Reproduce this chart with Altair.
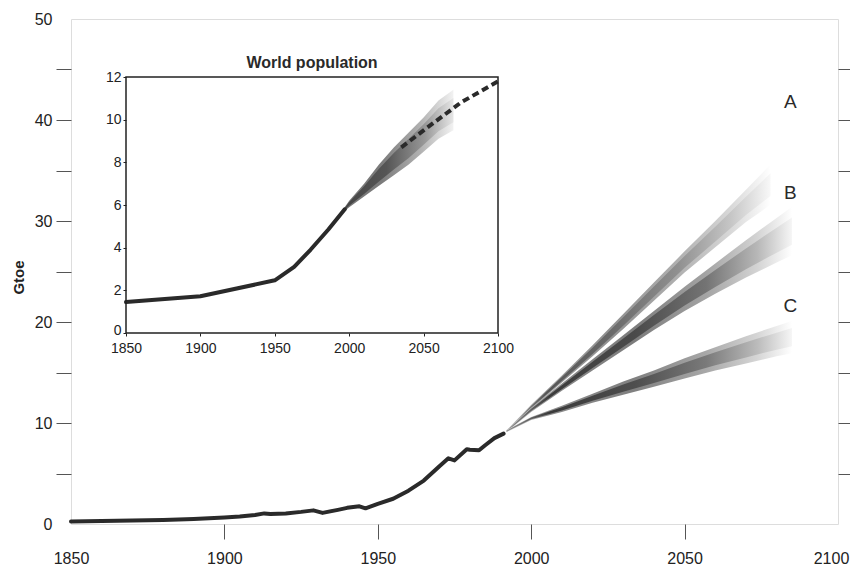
import altair as alt
import pandas as pd

FONT = "Liberation Sans"

# ---- main chart data (Gtoe) ----
hist_years = [1850, 1860, 1870, 1880, 1890, 1900, 1905, 1910, 1913, 1915, 1920, 1925,
              1929, 1932, 1937, 1940, 1944, 1946, 1950, 1955, 1960, 1965, 1970, 1973,
              1975, 1979, 1980, 1983, 1985, 1988, 1991]
hist_vals = [0.25, 0.3, 0.35, 0.4, 0.5, 0.65, 0.75, 0.9, 1.05, 1.0, 1.05, 1.2,
             1.35, 1.1, 1.4, 1.6, 1.75, 1.55, 2.0, 2.5, 3.3, 4.3, 5.7, 6.5,
             6.3, 7.4, 7.35, 7.3, 7.8, 8.5, 8.95]

fan_years_A = [1992, 2000, 2010, 2020, 2030, 2040, 2050, 2060, 2070, 2078]
A_lo = [9.1, 11.4, 14.0, 16.6, 19.3, 22.1, 24.9, 27.4, 29.9, 31.6]
A_hi = [9.3, 11.8, 14.7, 17.7, 20.8, 23.9, 27.0, 30.0, 33.1, 35.6]

fan_years_BC = [1992, 2000, 2010, 2020, 2030, 2040, 2050, 2060, 2070, 2080, 2085]
B_lo = [9.1, 11.1, 13.2, 15.2, 17.2, 19.2, 21.1, 22.8, 24.4, 25.9, 26.6]
B_hi = [9.3, 11.5, 13.9, 16.3, 18.7, 21.1, 23.5, 25.8, 28.1, 30.3, 31.4]
C_lo = [9.1, 10.3, 11.1, 12.0, 12.8, 13.6, 14.4, 15.2, 15.9, 16.6, 16.9]
C_hi = [9.3, 10.6, 11.7, 12.9, 14.1, 15.2, 16.4, 17.5, 18.6, 19.6, 20.1]

scen_labels = ["A", "B", "C"]
scen_label_year = [2084.5, 2084.5, 2084.5]
scen_label_val = [41.8, 32.8, 21.6]

# ---- inset data (billion people) ----
pop_years = [1850, 1900, 1950, 1963, 1974, 1986, 1997]
pop_vals = [1.45, 1.72, 2.47, 3.1, 3.9, 4.85, 5.8]
pop_band_years = [1995, 2000, 2010, 2020, 2030, 2040, 2050, 2060, 2070]
pop_band_lo = [5.6, 5.9, 6.4, 6.9, 7.4, 7.9, 8.5, 9.1, 9.5]
pop_band_hi = [5.7, 6.2, 7.0, 7.9, 8.7, 9.4, 10.1, 10.9, 11.4]
pop_dash_years = [2035, 2050, 2075, 2100]
pop_dash_vals = [8.7, 9.5, 10.8, 11.8]

# ---- scales / axes ----
hide_ends_x = {"condition": {"test": "datum.value == 1850 || datum.value == 2100", "value": 0}, "value": 1}
hide_ends_y = {"condition": {"test": "datum.value == 0 || datum.value == 50", "value": 0}, "value": 1}
shift_last = {"condition": {"test": "datum.value == 2100", "value": -7}, "value": 0}
shift_zero = {"condition": {"test": "datum.value == 0", "value": -3}, "value": 0}

x_scale = alt.Scale(domain=[1850, 2100], nice=False, zero=False)
y_scale = alt.Scale(domain=[0, 50], nice=False, zero=True)
x_axis = alt.Axis(values=[1850, 1900, 1950, 2000, 2050, 2100], format="d", title=None,
                  tickSize=15, tickColor="#555", labelFontSize=16, labelPadding=11,
                  domain=False, grid=False, labelFlush=False, labelOverlap=False,
                  labelColor="#222", labelFont=FONT, tickOpacity=hide_ends_x,
                  labelOffset=shift_last)
y_axis = alt.Axis(values=list(range(0, 51, 5)),
                  labelExpr="datum.value % 10 == 0 ? datum.label : ''",
                  title="Gtoe", titleFontWeight="bold", titleFontSize=15, titleFont=FONT,
                  titleColor="#222", titleX=-53, titleY=258, titleAngle=-90,
                  titleAlign="center", titleBaseline="middle",
                  tickSize=15, tickColor="#555", labelPadding=4, labelFontSize=16,
                  labelColor="#222", labelFont=FONT, domain=False, grid=False,
                  tickOpacity=hide_ends_y)

X = alt.X("year:Q", scale=x_scale, axis=x_axis)


def grad(stops):
    return alt.Gradient(gradient="linear", x1=0, x2=1, y1=0, y2=0,
                        stops=[alt.GradientStop(offset=o, color=c) for o, c in stops])


def fan(years, lo, hi, outer_stops, inner_stops):
    df = pd.DataFrame({"year": years, "lo": lo, "hi": hi})
    base = alt.Chart(df)
    outer = base.mark_area(color=grad(outer_stops)).encode(
        x=X, y=alt.Y("lo:Q", scale=y_scale, axis=y_axis), y2="hi:Q")
    inner = base.transform_calculate(
        lo2="datum.lo + (datum.hi - datum.lo) * 0.22",
        hi2="datum.hi - (datum.hi - datum.lo) * 0.22",
    ).mark_area(color=grad(inner_stops)).encode(
        x=X, y=alt.Y("lo2:Q", scale=y_scale, axis=y_axis), y2="hi2:Q")
    return outer + inner


fanA = fan(fan_years_A, A_lo, A_hi,
           [(0, "#e2e2e2"), (0.15, "#a0a0a0"), (0.4, "#909090"), (0.65, "#b0b0b0"), (0.85, "#d8d8d8"), (1, "#ffffff")],
           [(0, "#a0a0a0"), (0.15, "#555555"), (0.4, "#6a6a6a"), (0.65, "#909090"), (0.85, "#c6c6c6"), (1, "#f8f8f8")])
fanB = fan(fan_years_BC, B_lo, B_hi,
           [(0, "#dddddd"), (0.15, "#8c8c8c"), (0.45, "#7c7c7c"), (0.7, "#a4a4a4"), (0.88, "#d4d4d4"), (1, "#ffffff")],
           [(0, "#909090"), (0.15, "#3c3c3c"), (0.45, "#4a4a4a"), (0.7, "#747474"), (0.88, "#b8b8b8"), (1, "#f6f6f6")])
fanC = fan(fan_years_BC, C_lo, C_hi,
           [(0, "#dddddd"), (0.15, "#8c8c8c"), (0.45, "#808080"), (0.7, "#a8a8a8"), (0.88, "#d6d6d6"), (1, "#ffffff")],
           [(0, "#909090"), (0.15, "#3a3a3a"), (0.45, "#4e4e4e"), (0.7, "#7a7a7a"), (0.88, "#bcbcbc"), (1, "#f6f6f6")])

hist = alt.Chart(pd.DataFrame({"year": hist_years, "val": hist_vals})).mark_line(
    color="#2a2a2a", strokeWidth=4, strokeJoin="round", strokeCap="round"
).encode(x=X, y=alt.Y("val:Q", scale=y_scale, axis=y_axis))

labels = alt.Chart(pd.DataFrame({"year": scen_label_year, "val": scen_label_val, "lab": scen_labels})).mark_text(
    fontSize=19, font=FONT, color="#2a2a2a", baseline="middle", align="center"
).encode(x=X, y=alt.Y("val:Q", scale=y_scale, axis=y_axis), text="lab:N")

main = alt.layer(fanA, fanB, fanC, hist, labels)

# ---- right-hand tick axis ----
right = alt.Chart(pd.DataFrame({"v": list(range(5, 50, 5))})).mark_point(opacity=0).encode(
    y=alt.Y("v:Q", scale=alt.Scale(domain=[0, 50], nice=False),
            axis=alt.Axis(orient="right", values=list(range(5, 50, 5)), labels=False,
                          tickSize=17, tickColor="#555", domain=False, grid=False, title=None))
)

# ---- inset ----
xi_scale = alt.Scale(domain=[1850, 2100], range=[55, 427], nice=False, zero=False)
yi_scale = alt.Scale(domain=[0, 12], range=[314, 58], nice=False, zero=True)
xi_axis = alt.Axis(values=[1850, 1900, 1950, 2000, 2050, 2100], format="d", orient="bottom",
                   offset=-191, labelFontSize=14, labelFont=FONT, labelColor="#222",
                   tickSize=3, tickColor="#222", labelPadding=5, domain=False, grid=False,
                   labelFlush=False, labelOverlap=False, title=None)
yi_axis = alt.Axis(values=[0, 2, 4, 6, 8, 10, 12], orient="left", offset=-55,
                   labelFontSize=14, labelFont=FONT, labelColor="#222", tickSize=3,
                   tickColor="#222", labelPadding=2, domain=False, grid=False, title=None,
                   labelOffset=shift_zero)
XI = alt.X("year:Q", scale=xi_scale, axis=xi_axis)

band_df = pd.DataFrame({"year": pop_band_years, "lo": pop_band_lo, "hi": pop_band_hi})
ibase = alt.Chart(band_df)
iband_outer = ibase.mark_area(
    color=grad([(0, "#777777"), (0.35, "#7a7a7a"), (0.7, "#b0b0b0"), (1, "#f2f2f2")])
).encode(x=XI, y=alt.Y("lo:Q", scale=yi_scale, axis=yi_axis), y2="hi:Q")
iband_inner = ibase.transform_calculate(
    lo2="datum.lo + (datum.hi - datum.lo) * 0.2",
    hi2="datum.hi - (datum.hi - datum.lo) * 0.2",
).mark_area(
    color=grad([(0, "#444444"), (0.4, "#555555"), (0.75, "#999999"), (1, "#e6e6e6")])
).encode(x=XI, y=alt.Y("lo2:Q", scale=yi_scale, axis=yi_axis), y2="hi2:Q")

iline = alt.Chart(pd.DataFrame({"year": pop_years, "val": pop_vals})).mark_line(
    color="#2a2a2a", strokeWidth=4, strokeJoin="round", strokeCap="round"
).encode(x=XI, y=alt.Y("val:Q", scale=yi_scale, axis=yi_axis))

idash = alt.Chart(pd.DataFrame({"year": pop_dash_years, "val": pop_dash_vals})).mark_line(
    color="#2a2a2a", strokeWidth=4, strokeDash=[7, 4]
).encode(x=XI, y=alt.Y("val:Q", scale=yi_scale, axis=yi_axis))

frame_df = pd.DataFrame({"x0": [1850], "x1": [2100], "y0": [0], "y1": [12]})
iframe = alt.Chart(frame_df).mark_rect(fill=None, stroke="#222", strokeWidth=1.5).encode(
    x=alt.X("x0:Q", scale=xi_scale, axis=xi_axis), x2="x1:Q",
    y=alt.Y("y0:Q", scale=yi_scale, axis=yi_axis), y2="y1:Q")

ititle = alt.Chart(pd.DataFrame({"year": [1975], "val": [12.66], "t": ["World population"]})).mark_text(
    fontSize=16, fontWeight="bold", font=FONT, color="#2a2a2a", baseline="middle", align="center"
).encode(x=XI, y=alt.Y("val:Q", scale=yi_scale, axis=yi_axis), text="t:N")

inset = alt.layer(iband_outer, iband_inner, iline, idash, iframe, ititle)

chart = alt.layer(main, right, inset).resolve_scale(
    x="independent", y="independent"
).properties(
    width=767, height=505,
    autosize=alt.AutoSizeParams(type="none"),
    padding={"left": 63, "top": 11, "right": 12, "bottom": 43},
).configure_view(stroke="#666", strokeWidth=1).configure(background="white")

chart.save("out.html", embed_options={"renderer": "svg", "actions": False})
